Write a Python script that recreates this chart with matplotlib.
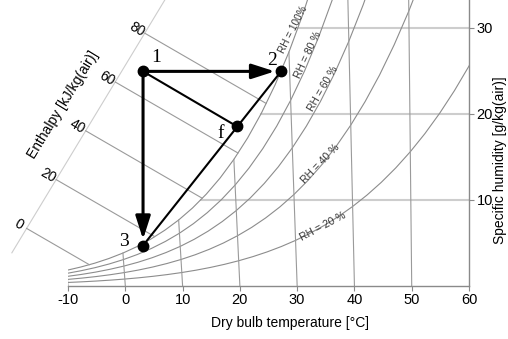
import numpy as np
import matplotlib.pyplot as plt

plt.rcParams['font.family'] = ['Liberation Sans', 'DejaVu Sans']
plt.rcParams['axes.unicode_minus'] = False

# saturation vapour pressure of water [kPa]
t_tab = [-10, -7.5, -5, -2.5, 0, 2.5, 5, 7.5, 10, 12.5, 15, 17.5, 20, 22.5,
         25, 27.5, 30, 32.5, 35, 37.5, 40, 42.5, 45, 47.5, 50, 52.5, 55, 57.5, 60]
ps_tab = [0.287, 0.349, 0.422, 0.509, 0.611, 0.731, 0.872, 1.036, 1.226, 1.447,
          1.702, 1.996, 2.334, 2.720, 3.162, 3.665, 4.237, 4.885, 5.617, 6.444,
          7.375, 8.420, 9.591, 10.901, 12.361, 13.988, 15.797, 17.804, 20.024]

rh_levels = [20, 40, 60, 80, 100]
rh_labels = ['RH = 20 %', 'RH = 40 %', 'RH = 60 %', 'RH = 80 %', 'RH = 100%']
db_lines = [-10, 0, 10, 20, 30, 40, 50]
x_lines = [10, 20, 30]
h_lines = [0, 20, 40, 60, 80]

# process points (chart coordinates: temperature axis, g/kg)
pt_names = ['1', '2', '3', 'f']
pt_X = [3.1, 27.2, 3.1, 19.5]
pt_x = [24.9, 24.9, 4.65, 18.5]

# enthalpy scale guide line
scale_X = [-19.8, 6.9]
scale_x = [3.8, 33.2]

P = 101.325
R_SKEW = 2610.0

t_tab = np.array(t_tab)
ps_tab = np.array(ps_tab)


def chart_X(t, x):
    return t + x / 1000.0 * (2501.0 - R_SKEW + 1.86 * t) / 1.006


xs_tab = 622.0 * ps_tab / (P - ps_tab)
hs_tab = 1.006 * t_tab + xs_tab / 1000.0 * (2501.0 + 1.86 * t_tab)

fig = plt.figure(figsize=(5.08, 3.39), dpi=100)
ax = fig.add_axes([68 / 508, 53.5 / 339, 401 / 508, 285.5 / 339])
ax.set_xlim(-10, 60)
ax.set_ylim(0, 33.2)

line_c = '#8c8c8c'

# relative humidity curves
for rh in rh_levels:
    pv = rh / 100.0 * ps_tab
    xr = 622.0 * pv / (P - pv)
    ax.plot(chart_X(t_tab, xr), xr, color=line_c, lw=0.8, zorder=2)

# dry bulb lines up to saturation
for t in db_lines:
    xs = np.interp(t, t_tab, xs_tab)
    ax.plot([chart_X(t, 0), chart_X(t, xs)], [0, xs], color='#9a9a9a', lw=0.8, zorder=2)

# specific humidity lines from saturation to the right axis
for xl in x_lines:
    td = np.interp(xl, xs_tab, t_tab)
    ax.plot([chart_X(td, xl), 60], [xl, xl], color='#cdcdcd', lw=1.5, zorder=1)

# enthalpy lines and scale
k = (scale_X[1] - scale_X[0]) / (scale_x[1] - scale_x[0])
ax.plot(scale_X, scale_x, color='#cdcdcd', lw=0.8, clip_on=False, zorder=1)
for h in h_lines:
    ts = np.interp(h, hs_tab, t_tab)
    xs = np.interp(ts, t_tab, xs_tab)
    Xs = (h - R_SKEW * xs / 1000.0) / 1.006
    a = R_SKEW / 1000.0 / 1.006
    xe = (h / 1.006 - scale_X[0] + k * scale_x[0]) / (k + a)
    Xe = h / 1.006 - a * xe
    ax.plot([Xe, Xs], [xe, xs], color='#9a9a9a', lw=0.8, clip_on=False, zorder=2)
    ax.annotate(str(h), xy=(Xe, xe), xytext=(-5.8, 2.9), textcoords='offset points',
                rotation=-30, ha='center', va='center', fontsize=10,
                rotation_mode='anchor', annotation_clip=False)

# RH labels
rh_pos = [(34.5, 6.9), (34.0, 14.2), (34.6, 22.9), (31.9, 26.8), (29.3, 29.8)]
rh_rot = [28, 46, 60, 65, 63]
rh_size = [7.5, 7.5, 7.5, 7.5, 7.2]
for lab, (px, py), rot, fs in zip(rh_labels, rh_pos, rh_rot, rh_size):
    ax.text(px, py, lab, fontsize=fs, rotation=rot, rotation_mode='anchor',
            ha='center', va='center', color='#333333')

# process lines
p = list(zip(pt_X, pt_x))
ax.plot([p[0][0], p[3][0]], [p[0][1], p[3][1]], color='k', lw=1.5, zorder=4)
ax.plot([p[2][0], p[1][0]], [p[2][1], p[1][1]], color='k', lw=1.5, zorder=4)
arrow = dict(arrowstyle='-|>,head_length=1.4,head_width=0.45', color='k', lw=2.2,
             shrinkA=0, shrinkB=4.5, mutation_scale=10)
ax.annotate('', xy=p[1], xytext=p[0], arrowprops=arrow, zorder=5)
ax.annotate('', xy=p[2], xytext=p[0], arrowprops=arrow, zorder=5)
ax.plot(pt_X, pt_x, 'o', color='k', ms=7.5, zorder=6)

offsets = [(9.4, 10), (-6.5, 8), (-13.7, 3.2), (-12, -5)]
for name, xy, off in zip(pt_names, p, offsets):
    ax.annotate(name, xy=xy, xytext=off, textcoords='offset points', ha='center',
                va='center', fontsize=14, family=['Liberation Serif', 'DejaVu Serif'])

# axes styling
for s in ['left', 'top']:
    ax.spines[s].set_visible(False)
for s in ['bottom', 'right']:
    ax.spines[s].set_color('#8a8a8a')
    ax.spines[s].set_linewidth(1.0)
ax.yaxis.tick_right()
ax.set_xticks([-10, 0, 10, 20, 30, 40, 50, 60])
ax.set_yticks([10, 20, 30])
ax.tick_params(length=3.5, width=0.8, color='#8a8a8a', labelsize=10.5, pad=2)
ax.patch.set_visible(False)

fig.text(290 / 508, 1 - 323 / 339, 'Dry bulb temperature [°C]', ha='center', va='center',
         fontsize=10)
fig.text(500 / 508, 1 - 160 / 339, 'Specific humidity [g/kg(air)]', ha='center', va='center',
         rotation=90, fontsize=10)
fig.text(63 / 508, 1 - 105 / 339, 'Enthalpy [kJ/kg(air)]', ha='center', va='center',
         rotation=58.6, rotation_mode='anchor', fontsize=10)

fig.savefig('out.png', dpi=100)
